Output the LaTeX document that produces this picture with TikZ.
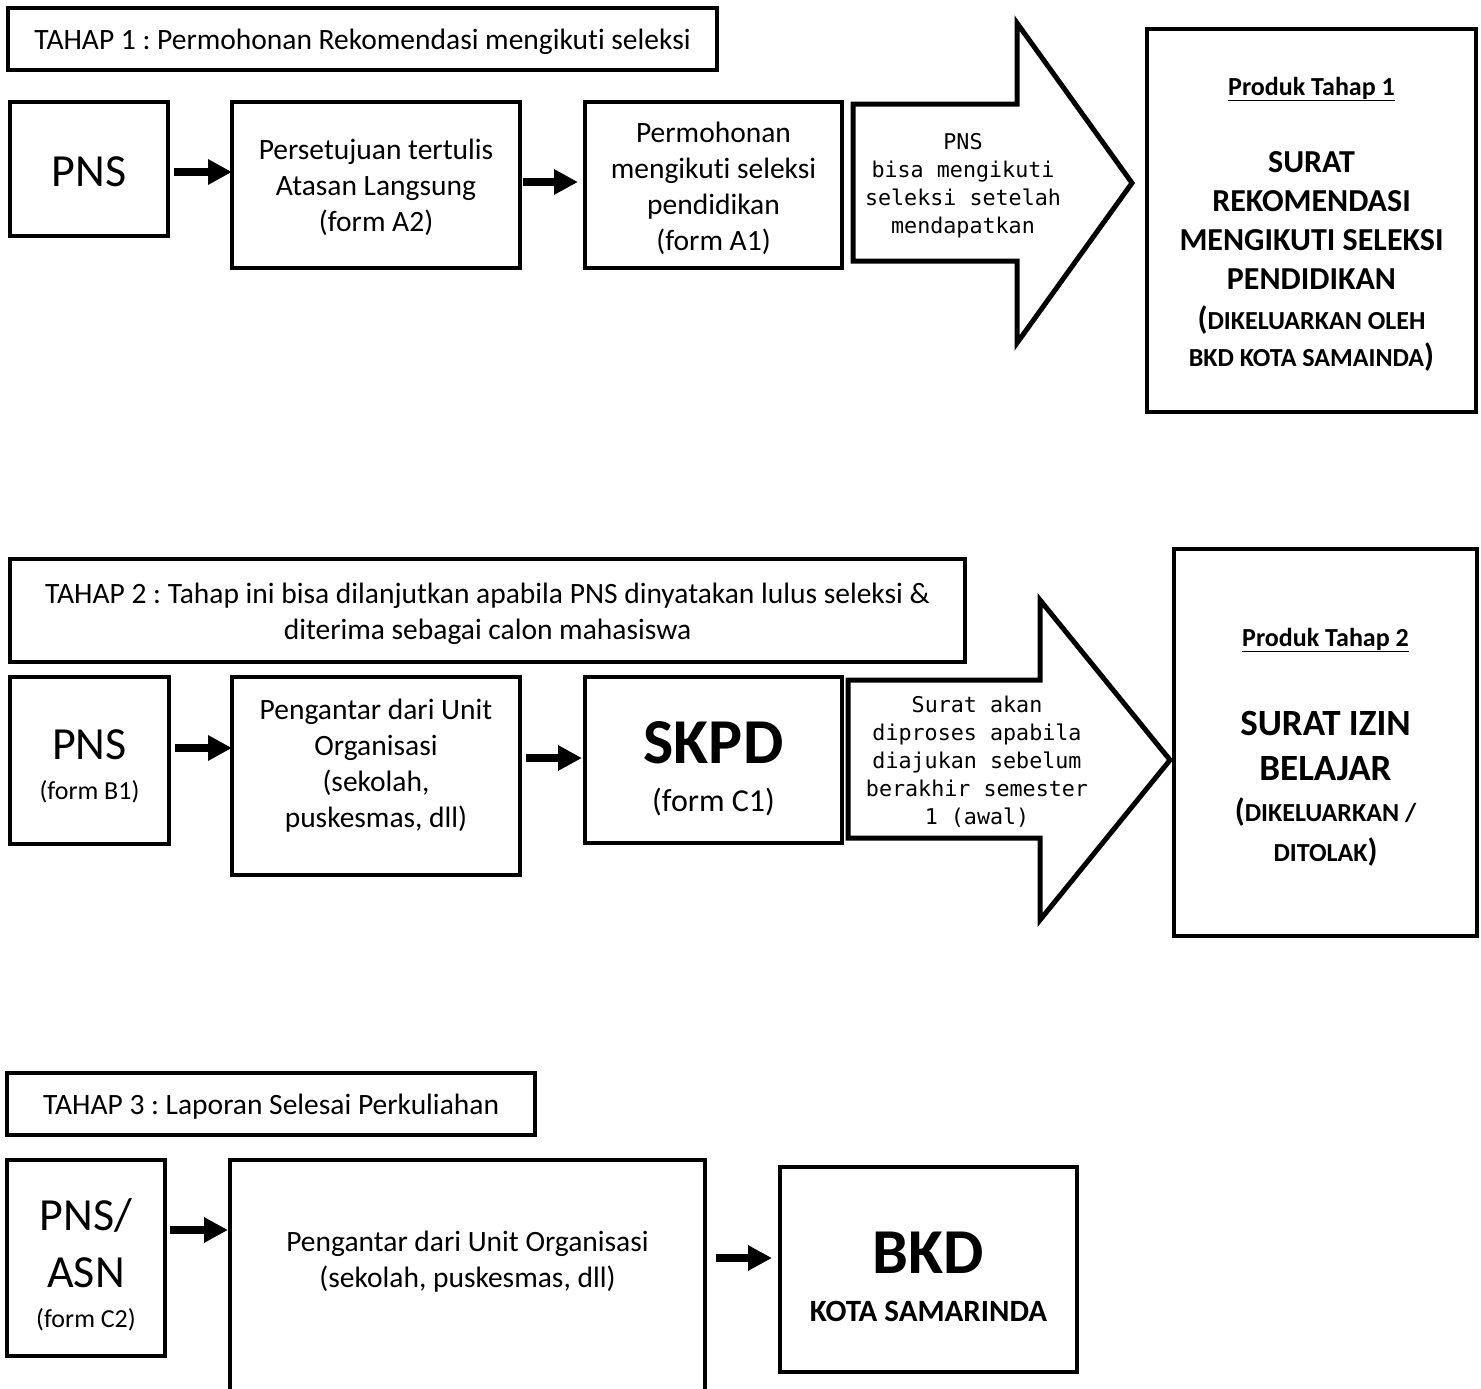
\documentclass[tikz,border=0pt]{standalone}
\usepackage{fontspec}
\setmainfont[Ligatures=NoCommon]{Carlito}
\newfontfamily\monofnt{DejaVu Sans Mono}
\usetikzlibrary{arrows.meta}
\newcommand\fsz[2]{\fontsize{#1}{#2}\selectfont}
\frenchspacing
\begin{document}
\begin{tikzpicture}[x=1pt,y=-1pt,
  box/.style={draw,line width=4.5pt,inner sep=0pt,outer sep=0pt},
  conn/.style={line width=8pt,-{Triangle[length=24pt,width=24pt]}},
  blockarrow/.style={draw,line width=5pt,line join=miter,fill=white},
  body/.style={font=\frenchspacing\fsz{29.5}{36},align=center,inner sep=0pt},
  big/.style={font=\fsz{46}{57},align=center,inner sep=0pt},
  small/.style={font=\fsz{26}{32},align=center,inner sep=0pt},
  mono/.style={font=\monofnt\fsz{21.7}{28},align=center,inner sep=0pt},
  prodhead/.style={font=\bfseries\fsz{26}{32},align=center,inner sep=0pt},
  prodbig/.style={font=\bfseries\fsz{32}{39},align=center,inner sep=0pt},
  prodsmall/.style={font=\bfseries\fsz{26}{37},align=center,inner sep=0pt},
  huge/.style={font=\bfseries\fsz{64}{70},align=center,inner sep=0pt}
]
\useasboundingbox (0,0) rectangle (1481,1389);
\clip (0,0) rectangle (1481,1389);

% ---------- TAHAP 1 ----------
\node[box,minimum width=709pt,minimum height=62pt] (h1) at (362.5,39) {};
\node[body] (h1t) at (362.5,42) {TAHAP 1 : Permohonan Rekomendasi mengikuti seleksi};
\node[box,minimum width=158pt,minimum height=134pt] (pns1) at (89,169) {};
\node[big] (pns1t) at (89,172) {PNS};
\node[box,minimum width=288pt,minimum height=166pt] (b12) at (376,185) {};
\node[body] (b12t) at (376,187.5) {Persetujuan tertulis\\Atasan Langsung\\(form A2)};
\node[box,minimum width=257pt,minimum height=166pt] (b13) at (713.5,185) {};
\node[body] (b13t) at (713.5,188)
  {Permohonan\\mengikuti seleksi\\pendidikan\\(form A1)};
\draw[blockarrow] (853,104) -- (1017,104) -- (1017,23) -- (1132,183)
  -- (1017,343) -- (1017,261) -- (853,261) -- cycle;
\node[mono] (a1t) at (963,186)
  {PNS\\bisa mengikuti\\seleksi setelah\\mendapatkan};
\node[box,minimum width=329pt,minimum height=383pt] (prod1) at (1311.5,220.5) {};
\node[prodhead] (p1h) at (1311.5,89) {\underline{Produk Tahap 1}};
\node[prodbig] (p1m) at (1311.5,220.5)
  {SURAT\\REKOMENDASI\\MENGIKUTI SELEKSI\\PENDIDIKAN};
\node[prodsmall] (p1s) at (1311.5,338.5)
  {{\fsz{32}{37}(}DIKELUARKAN OLEH\\BKD KOTA SAMAINDA{\fsz{32}{37})}};

\draw[conn,shorten <=6pt] ([yshift=-3pt]pns1.east) -- ([yshift=-3pt]pns1.east -| b12.west);
\draw[conn,shorten <=3pt,shorten >=7pt] ([yshift=3pt]b12.east) -- ([yshift=3pt]b12.east -| b13.west);

% ---------- TAHAP 2 ----------
\node[box,minimum width=955pt,minimum height=103pt] (h2) at (487.5,610.5) {};
\node[body] (h2t) at (487.5,613.5)
  {TAHAP 2 : Tahap ini bisa dilanjutkan apabila PNS dinyatakan lulus seleksi \&\\diterima sebagai calon mahasiswa};
\node[box,minimum width=159pt,minimum height=167pt] (pns2) at (89.5,760.5) {};
\node[big] (pns2a) at (89.5,745) {PNS};
\node[small] (pns2b) at (89.5,792) {(form B1)};
\node[box,minimum width=288pt,minimum height=198pt] (b22) at (376,776) {};
\node[body] (b22t) at (376,766)
  {Pengantar dari Unit\\Organisasi\\(sekolah,\\puskesmas, dll)};
\node[box,minimum width=257pt,minimum height=166pt] (skpd) at (713.5,760) {};
\node[huge] (skpda) at (713.5,743) {SKPD};
\node[body,font=\fsz{32}{36}] (skpdb) at (713.5,802) {(form C1)};
\draw[blockarrow] (848,680) -- (1040,680) -- (1040,600) -- (1170,760)
  -- (1040,920) -- (1040,838) -- (848,838) -- cycle;
\node[mono] (a2t) at (977,762)
  {Surat akan\\diproses apabila\\diajukan sebelum\\berakhir semester\\1 (awal)};
\node[box,minimum width=303pt,minimum height=387pt] (prod2) at (1325.5,742.5) {};
\node[prodhead] (p2h) at (1325.5,640) {\underline{Produk Tahap 2}};
\node[font=\bfseries\fsz{37}{45},align=center,inner sep=0pt] (p2m) at (1325.5,745.5)
  {SURAT IZIN\\BELAJAR};
\node[font=\bfseries\fsz{26}{40},align=center,inner sep=0pt] (p2s) at (1325.5,832)
  {{\fsz{32}{40}(}DIKELUARKAN /\\DITOLAK{\fsz{32}{40})}};

\draw[conn,shorten <=6pt] ([yshift=12.5pt]pns2.east) -- ([yshift=12.5pt]pns2.east -| b22.west);
\draw[conn,shorten <=6pt,shorten >=3pt] ([yshift=18pt]b22.east) -- ([yshift=18pt]b22.east -| skpd.west);

% ---------- TAHAP 3 ----------
\node[box,minimum width=528pt,minimum height=62pt] (h3) at (271,1104) {};
\node[body] (h3t) at (271,1107) {TAHAP 3 : Laporan Selesai Perkuliahan};
\node[box,minimum width=158pt,minimum height=196pt] (pns3) at (86,1258) {};
\node[big] (pns3a) at (86,1243.5) {PNS/\\ASN};
\node[small] (pns3b) at (86,1320) {(form C2)};
\node[box,minimum width=475pt,minimum height=260pt] (b32) at (467.5,1290) {};
\node[body] (b32t) at (467.5,1262)
  {Pengantar dari Unit Organisasi\\(sekolah, puskesmas, dll)};
\node[box,minimum width=297pt,minimum height=205pt] (bkd) at (928.5,1269.5) {};
\node[huge] (bkda) at (928.5,1253) {BKD};
\node[font=\bfseries\fsz{31}{36},inner sep=0pt] (bkdb) at (928.5,1311) {KOTA SAMARINDA};

\draw[conn,shorten <=5pt,shorten >=2pt] ([yshift=28pt]pns3.east) -- ([yshift=28pt]pns3.east -| b32.west);
\draw[conn,shorten <=11pt,shorten >=8pt] ([yshift=32pt]b32.east) -- ([yshift=32pt]b32.east -| bkd.west);
\end{tikzpicture}
\end{document}
